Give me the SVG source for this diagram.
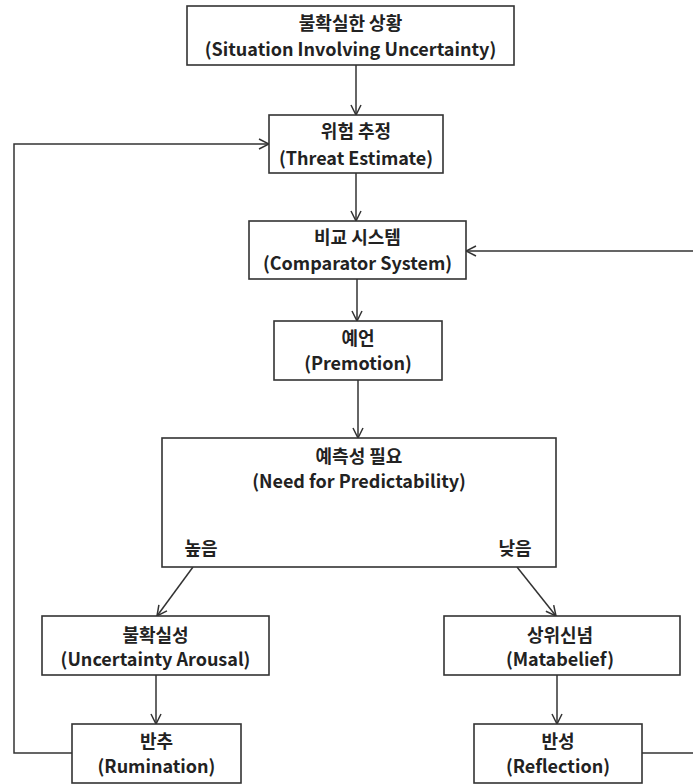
<svg xmlns="http://www.w3.org/2000/svg" width="693" height="784" viewBox="0 0 693 784">
<style>
.box{fill:#fff;stroke:#333;stroke-width:1.6}
.t{font-family:"Noto Sans CJK KR","Noto Sans",sans-serif;font-size:18px;font-weight:bold;fill:#222;text-anchor:middle}
.c{fill:none;stroke:#333;stroke-width:1.5}
</style>
<defs>
<marker id="ah" viewBox="0 0 12 12" refX="11" refY="6" markerWidth="12" markerHeight="12" markerUnits="userSpaceOnUse" orient="auto">
<path d="M1,1 L11,6 L1,11" fill="none" stroke="#333" stroke-width="1.5"/>
</marker>
</defs>
<rect width="693" height="784" fill="#fff"/>
<g id="connectors">
<path class="c" d="M356,65 V115" marker-end="url(#ah)"/>
<path class="c" d="M356,173 V221" marker-end="url(#ah)"/>
<path class="c" d="M357,279 V321" marker-end="url(#ah)"/>
<path class="c" d="M358,380 V438" marker-end="url(#ah)"/>
<path class="c" d="M193,567 L157,616" marker-end="url(#ah)"/>
<path class="c" d="M517,567 L556,616" marker-end="url(#ah)"/>
<path class="c" d="M156,675 V724" marker-end="url(#ah)"/>
<path class="c" d="M557,675 V724" marker-end="url(#ah)"/>
<path class="c" d="M72,753 H14 V144 H269" marker-end="url(#ah)"/>
<path class="c" d="M642,753 H695 V251 H466" marker-end="url(#ah)"/>
</g>
<g id="n1">
<rect class="box" x="187" y="6" width="327" height="59"/>
<text class="t" x="350.5" y="30">불확실한 상황</text>
<text class="t" x="350.5" y="56">(Situation Involving Uncertainty)</text>
</g>
<g id="n2">
<rect class="box" x="269" y="115" width="174" height="58"/>
<text class="t" x="356" y="138">위험 추정</text>
<text class="t" x="356" y="165">(Threat Estimate)</text>
</g>
<g id="n3">
<rect class="box" x="249" y="221" width="217" height="58"/>
<text class="t" x="357.5" y="244">비교 시스템</text>
<text class="t" x="357.5" y="270">(Comparator System)</text>
</g>
<g id="n4">
<rect class="box" x="274" y="321" width="168" height="59"/>
<text class="t" x="358" y="345">예언</text>
<text class="t" x="358" y="370">(Premotion)</text>
</g>
<g id="n5">
<rect class="box" x="162" y="438" width="394" height="129"/>
<text class="t" x="359" y="463">예측성 필요</text>
<text class="t" x="359" y="488">(Need for Predictability)</text>
<text class="t" x="201" y="555">높음</text>
<text class="t" x="515" y="555">낮음</text>
</g>
<g id="n6">
<rect class="box" x="42" y="616" width="227" height="59"/>
<text class="t" x="155.5" y="642">불확실성</text>
<text class="t" x="155.5" y="666">(Uncertainty Arousal)</text>
</g>
<g id="n7">
<rect class="box" x="444" y="616" width="236" height="59"/>
<text class="t" x="560" y="642">상위신념</text>
<text class="t" x="560" y="666">(Matabelief)</text>
</g>
<g id="n8">
<rect class="box" x="72" y="724" width="169" height="59"/>
<text class="t" x="156.5" y="748">반추</text>
<text class="t" x="156.5" y="773">(Rumination)</text>
</g>
<g id="n9">
<rect class="box" x="474" y="724" width="168" height="59"/>
<text class="t" x="558" y="748">반성</text>
<text class="t" x="558" y="773">(Reflection)</text>
</g>
</svg>
